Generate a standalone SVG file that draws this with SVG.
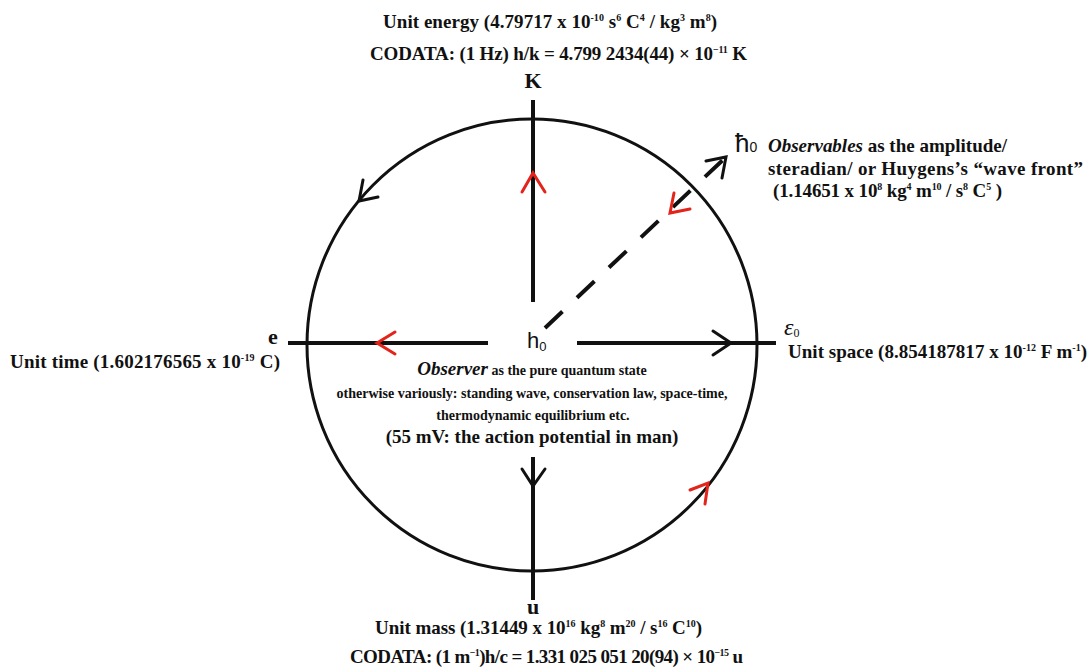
<svg xmlns="http://www.w3.org/2000/svg" width="1092" height="672" viewBox="0 0 1092 672">
<style>
.t{font-family:"Liberation Serif","Times New Roman",serif;font-weight:bold;fill:#111}
.s{font-family:"Liberation Sans",Arial,sans-serif;fill:#111}
.ax{stroke:#111;stroke-width:4;fill:none;stroke-linecap:butt}
.ch{stroke-width:3;fill:none;stroke-linecap:round;stroke-linejoin:miter}
.bk{stroke:#111}
.rd{stroke:#e3241b}
</style>
<rect width="1092" height="672" fill="#fff"/>
<g id="connectors">
<ellipse cx="532" cy="345" rx="225" ry="226" fill="none" stroke="#111" stroke-width="3"/>
<line class="ax" x1="533" y1="100" x2="533" y2="302"/>
<line class="ax" x1="533" y1="457" x2="533" y2="600"/>
<line class="ax" x1="288" y1="343" x2="488" y2="343"/>
<line class="ax" x1="577" y1="343" x2="776" y2="343"/>
<line class="ax" x1="545" y1="328" x2="726" y2="157" stroke-dasharray="24 20"/>
<polyline class="ch rd" points="522,192 533,173 545,192"/>
<polyline class="ch rd" points="395,332 377,343 395,354"/>
<polyline class="ch bk" points="713,331 731,343 713,355"/>
<polyline class="ch bk" points="522,469 533,486 545,469"/>
<polyline class="ch bk" points="706,161 726,157 722,178"/>
<polyline class="ch rd" points="674,193 670,213 690,209"/>
<polyline class="ch bk" points="363,180 359,201 378,197"/>
<polyline class="ch rd" points="690,490 708,483 705,504"/>
</g>
<g id="node-top">
<text class="t" x="383" y="28" font-size="19" textLength="334">Unit energy (4.79717 x 10<tspan font-size="10" dy="-7">-10</tspan><tspan dy="7"> s</tspan><tspan font-size="10" dy="-7">6</tspan><tspan dy="7"> C</tspan><tspan font-size="10" dy="-7">4</tspan><tspan dy="7"> / kg</tspan><tspan font-size="10" dy="-7">3</tspan><tspan dy="7"> m</tspan><tspan font-size="10" dy="-7">8</tspan><tspan dy="7">)</tspan></text>
<text class="t" x="370" y="60" font-size="19" textLength="377">CODATA:  (1 Hz) h/k = 4.799 2434(44) × 10<tspan font-size="10" dy="-7">−11</tspan><tspan dy="7"> K</tspan></text>
<text class="t" x="533" y="88" font-size="22" text-anchor="middle">K</text>
</g>
<g id="node-hbar">
<text class="s" x="735" y="152" font-size="26">ħ<tspan font-size="14">0</tspan></text>
<text class="t" x="768" y="152" font-size="19" textLength="239"><tspan font-style="italic">Observables</tspan> as the amplitude/</text>
<text class="t" x="768" y="175" font-size="19" textLength="315">steradian/ or Huygens’s “wave front”</text>
<text class="t" x="773" y="197" font-size="19" textLength="229">(1.14651 x 10<tspan font-size="10" dy="-7">8</tspan><tspan dy="7"> kg</tspan><tspan font-size="10" dy="-7">4</tspan><tspan dy="7"> m</tspan><tspan font-size="10" dy="-7">10</tspan><tspan dy="7"> / s</tspan><tspan font-size="10" dy="-7">8</tspan><tspan dy="7"> C</tspan><tspan font-size="10" dy="-7">5</tspan><tspan dy="7"> )</tspan></text>
</g>
<g id="node-left">
<text class="t" x="273" y="344" font-size="22" text-anchor="middle">e</text>
<text class="t" x="10" y="368" font-size="19" textLength="270">Unit time (1.602176565 x 10<tspan font-size="10" dy="-7">-19</tspan><tspan dy="7"> C)</tspan></text>
</g>
<g id="node-right">
<text x="784" y="335" font-size="24" font-style="italic" font-family="Liberation Serif,serif" fill="#111">ε<tspan font-size="12" font-style="normal" dy="2">0</tspan></text>
<text class="t" x="788" y="358" font-size="19" textLength="299">Unit space (8.854187817 x 10<tspan font-size="10" dy="-7">-12</tspan><tspan dy="7"> F m</tspan><tspan font-size="10" dy="-7">-1</tspan><tspan dy="7">)</tspan></text>
</g>
<g id="node-center">
<text class="s" x="527" y="348" font-size="22">h<tspan font-size="13" dy="3">0</tspan></text>
<text class="t" x="532" y="375" text-anchor="middle"><tspan font-size="19" font-style="italic">Observer</tspan><tspan font-size="14"> as the pure quantum state</tspan></text>
<text class="t" x="532" y="398" font-size="14" text-anchor="middle">otherwise variously: standing wave, conservation law, space-time,</text>
<text class="t" x="533" y="420" font-size="14" text-anchor="middle">thermodynamic equilibrium etc.</text>
<text class="t" x="532" y="443" font-size="19" text-anchor="middle">(55 mV: the action potential in man)</text>
</g>
<g id="node-bottom">
<text class="t" x="533" y="614" font-size="22" text-anchor="middle">u</text>
<text class="t" x="375" y="634" font-size="19" textLength="327">Unit mass (1.31449 x 10<tspan font-size="10" dy="-7">16</tspan><tspan dy="7"> kg</tspan><tspan font-size="10" dy="-7">8</tspan><tspan dy="7"> m</tspan><tspan font-size="10" dy="-7">20</tspan><tspan dy="7"> / s</tspan><tspan font-size="10" dy="-7">16</tspan><tspan dy="7"> C</tspan><tspan font-size="10" dy="-7">10</tspan><tspan dy="7">)</tspan></text>
<text class="t" x="350" y="663" font-size="19" textLength="393">CODATA: (1 m<tspan font-size="10" dy="-7">−1</tspan><tspan dy="7">)h/c = 1.331 025 051 20(94) × 10</tspan><tspan font-size="10" dy="-7">−15</tspan><tspan dy="7"> u</tspan></text>
</g>
</svg>
